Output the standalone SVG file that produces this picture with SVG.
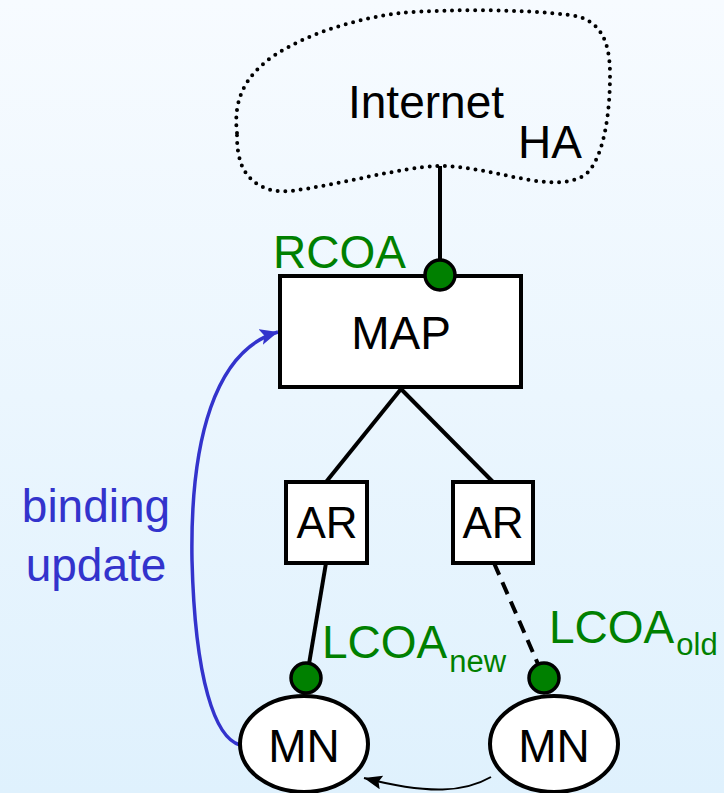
<svg xmlns="http://www.w3.org/2000/svg" width="724" height="793" viewBox="0 0 724 793">
<defs>
<linearGradient id="bg" x1="0" y1="0" x2="0" y2="1">
<stop offset="0" stop-color="#f7fbff"/>
<stop offset="1" stop-color="#dff1fd"/>
</linearGradient>
<marker id="arrBlue" markerUnits="userSpaceOnUse" markerWidth="20" markerHeight="20" refX="18" refY="8" orient="auto">
<path d="M0,0 L18,8 L0,16 L4,8 Z" fill="#3333cc"/>
</marker>
<marker id="arrBlack" markerUnits="userSpaceOnUse" markerWidth="20" markerHeight="20" refX="18" refY="7" orient="auto">
<path d="M0,0 L18,7 L0,14 L3,7 Z" fill="#000"/>
</marker>
<style>
text{font-family:"Liberation Sans",Arial,sans-serif;font-size:46px;fill:#000}
.g{fill:#008000}
.b{fill:#3333cc}
.sub{font-size:31px}
.box{fill:#fff;stroke:#000;stroke-width:4}
.dot{fill:#008000;stroke:#000;stroke-width:3.5}
.ln{stroke:#000;stroke-width:4;fill:none}
</style>
</defs>
<rect width="724" height="793" fill="url(#bg)"/>

<g id="internet">
<path d="M237,133 C233,100 245,75 275,55 C310,32 360,18 400,13 C450,9 520,9 570,15 C600,19 610,40 610,75 C610,110 605,150 590,170 C580,182 560,185 530,180 C500,175 470,166 440,166 C400,167 340,185 290,191 C265,194 245,180 240,160 C237,150 237,140 237,133 Z" fill="none" stroke="#000" stroke-width="4" stroke-dasharray="0 7.7" stroke-linecap="round"/>
<text x="348" y="118">Internet</text>
<text x="518" y="158">HA</text>
</g>

<g id="connectors">
<line class="ln" x1="440" y1="166" x2="440" y2="262"/>
<line class="ln" x1="401" y1="389" x2="326" y2="482"/>
<line class="ln" x1="401" y1="389" x2="493" y2="482"/>
<line class="ln" x1="326" y1="563" x2="309" y2="664"/>
<line class="ln" x1="494" y1="563" x2="538" y2="664" stroke-dasharray="13 8"/>
<path d="M240,745 C215,738 195,680 192,560 C190,440 215,350 278,332" fill="none" stroke="#3333cc" stroke-width="3.5" marker-end="url(#arrBlue)"/>
<path d="M491,777 C465,792 430,795 364,778" fill="none" stroke="#000" stroke-width="2" marker-end="url(#arrBlack)"/>
</g>

<g id="map">
<rect class="box" x="280" y="276" width="241" height="111"/>
<text x="401" y="349" text-anchor="middle">MAP</text>
</g>
<g id="rcoa">
<circle class="dot" cx="440" cy="275" r="15"/>
<text class="g" x="273" y="268">RCOA</text>
</g>

<g id="ar-left">
<rect class="box" x="286" y="482" width="81" height="81"/>
<text x="327" y="538" text-anchor="middle" style="font-size:44px">AR</text>
</g>
<g id="ar-right">
<rect class="box" x="453" y="482" width="80" height="81"/>
<text x="493" y="538" text-anchor="middle" style="font-size:44px">AR</text>
</g>

<g id="lcoa-new">
<circle class="dot" cx="306" cy="678" r="15"/>
<text class="g" x="322" y="658">LCOA<tspan class="sub" dx="2" dy="14">new</tspan></text>
</g>
<g id="lcoa-old">
<circle class="dot" cx="544" cy="678" r="15"/>
<text class="g" x="549" y="643">LCOA<tspan class="sub" dx="2" dy="12">old</tspan></text>
</g>

<g id="mn-left">
<ellipse class="box" cx="304" cy="744" rx="64" ry="48"/>
<text x="304" y="762" text-anchor="middle">MN</text>
</g>
<g id="mn-right">
<ellipse class="box" cx="554" cy="744" rx="64" ry="48"/>
<text x="554" y="762" text-anchor="middle">MN</text>
</g>

<g id="binding-update">
<text class="b" x="96" y="522" text-anchor="middle">binding</text>
<text class="b" x="96" y="581" text-anchor="middle">update</text>
</g>
</svg>
